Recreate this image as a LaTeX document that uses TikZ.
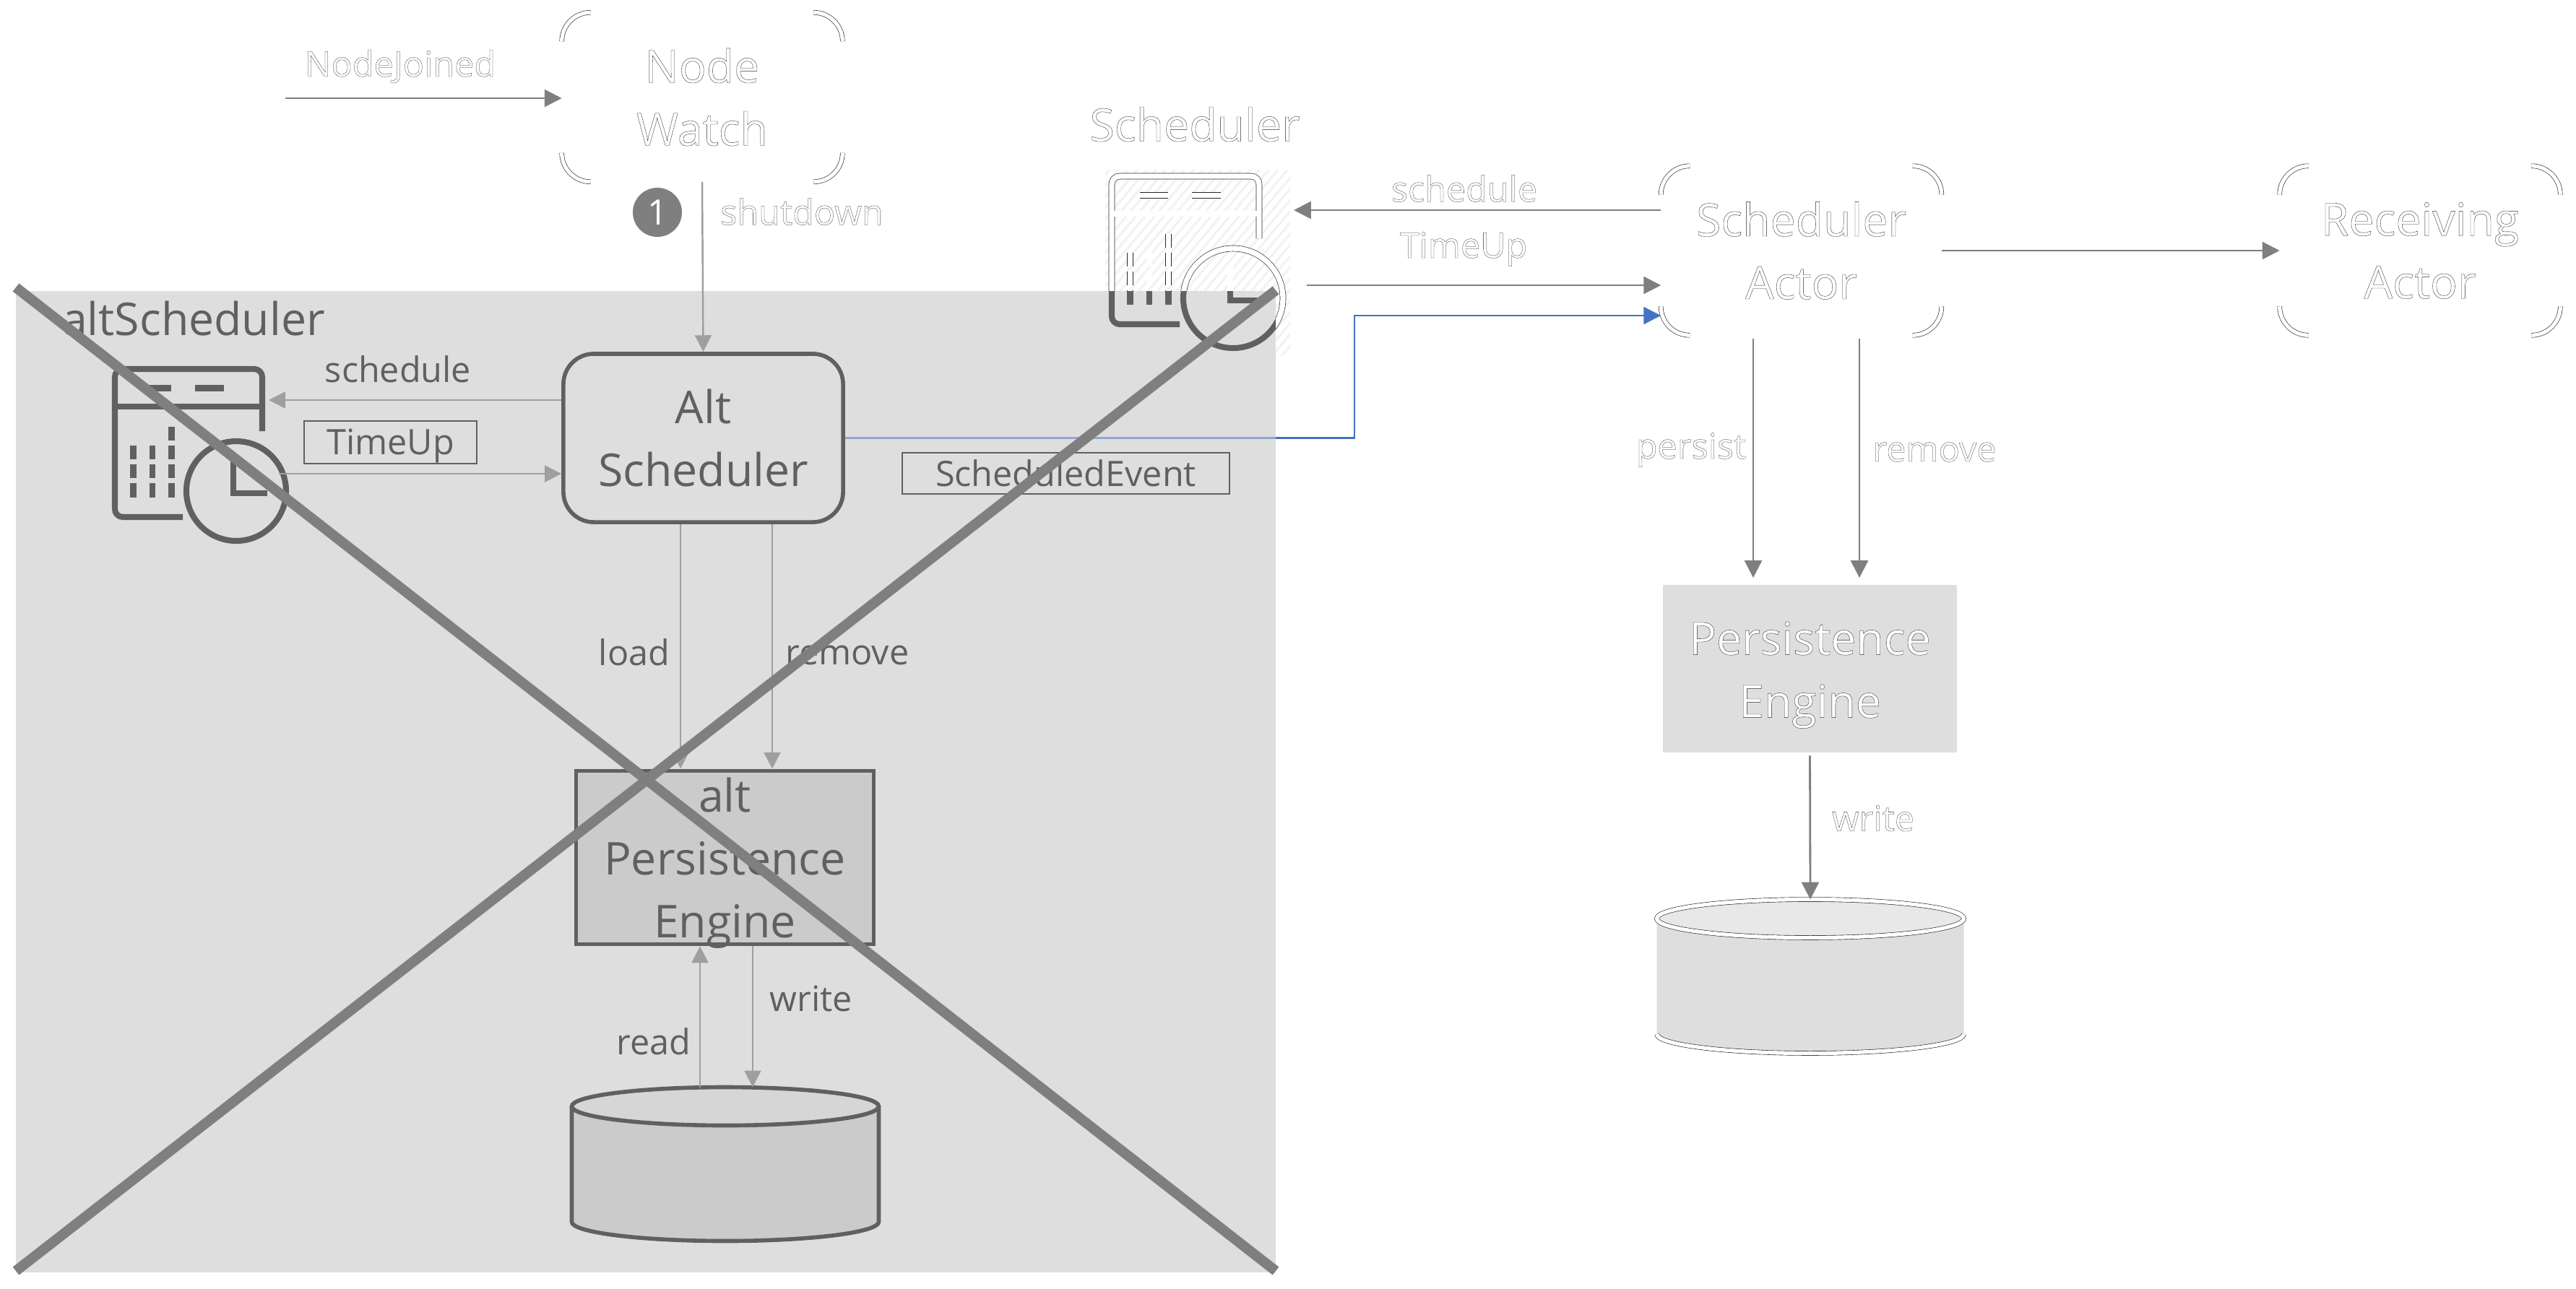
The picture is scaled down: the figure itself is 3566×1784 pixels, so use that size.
\documentclass[tikz,border=0pt]{standalone}
\usepackage{fontspec}
\setmainfont{Open Sans}
\newfontfamily\ghostfont[FakeBold=0.55]{Open Sans}
\usetikzlibrary{arrows.meta,calc}
\definecolor{boxgray}{HTML}{DEDEDE}
\definecolor{darkgray}{HTML}{606060}
\definecolor{crossgray}{HTML}{7F7F7F}
\definecolor{lightarrow}{HTML}{9F9F9F}
\definecolor{fillgray}{HTML}{CBCBCB}
\definecolor{blueline}{HTML}{4472C4}
\definecolor{paleblue}{HTML}{8FA8D3}
\newcommand{\ghosted}{\special{pdf:code 1 1 1 rg 0.15 0.15 0.15 RG}}
\tikzset{
  bigfont/.style={font=\fontsize{17.8}{24.75}\selectfont},
  smallfont/.style={font=\fontsize{13.8}{16}\selectfont},
  outline/.style={draw=black!85,line width=0.18pt,double=white,double distance=1.5pt},
  iconline/.style={outline,double distance=2.1pt},
  arrow/.style={-{Triangle[length=6.8pt,width=6.8pt]},crossgray,line width=0.8pt},
  altarrow/.style={-{Triangle[length=6.5pt,width=6.5pt]},lightarrow,line width=0.7pt},
  blueflow/.style={-{Triangle[length=6.8pt,width=6.8pt]},line width=0.75pt},
  actor/.style={font=\ghostfont\fontsize{17.8}{24.75}\selectfont,text=white,align=center,minimum width=3.87cm,minimum height=2.33cm,inner sep=0pt},
  altbox/.style={bigfont,align=center,text=darkgray,draw=darkgray,line width=1.6pt,inner sep=0pt},
  label/.style={font=\ghostfont\fontsize{13.8}{16}\selectfont,text=white,inner sep=0pt},
  altlabel/.style={smallfont,text=darkgray,inner sep=0pt},
  msgbox/.style={altlabel,draw=darkgray,line width=0.55pt},
  cross/.style={crossgray,line width=4pt},
}
% calendar with clock, given in the position of the alt one
\newcommand{\calendaricon}[1]{
  \draw[#1,line join=round] (253,716) -- (170,716) arc (90:180:11) -- (159,522) arc (180:270:11) -- (352,511) arc (-90:0:11) -- (363,597);
  \draw[#1] (159,563) -- (363,563);
  \draw[#1] (327,680) ellipse (69 and 69);
  \draw[#1] (323,635) -- (323,683) -- (370,683);
  \draw[#1] (198,537.5) -- (237,537.5);
  \draw[#1] (270,537.5) -- (310,537.5);
  \foreach \x in {184.5,211,237.5}{
    \draw[#1] (\x,617) -- (\x,636);
    \draw[#1] (\x,643) -- (\x,662);
    \draw[#1] (\x,669) -- (\x,689);
  }
  \draw[#1] (237.5,591) -- (237.5,610);
}
% cylinder, with centre of the top ellipse at the origin
\newcommand{\dbcylinder}[2]{
  \fill[#1] (-212.5,0) -- (-212.5,160) arc (180:0:212.5 and 26.5) -- (212.5,0) -- cycle;
  \fill[#2] (0,0) ellipse (212.5 and 26.5);
}
\begin{document}
\begin{tikzpicture}[x=0.01cm,y=-0.01cm]
\useasboundingbox (0,0) rectangle (3566,1784);

% faint hatch behind the scheduler icon
\begin{scope}
\clip (1530,235) rectangle (1786,492);
\foreach \i in {0,...,40}{
  \draw[black!5,line width=0.9pt] (1300+\i*13,500) -- (1300+\i*13+235,220);
}
\end{scope}

% background of the alt part
\fill[boxgray] (22,403) rectangle (1766,1762);

% scheduler icon, outlined above the gray part and solid in it
\begin{scope}
\clip (1500,200) rectangle (1800,403) (1766,403) rectangle (1800,500);
\begin{scope}[shift={(1380,-267)}]
\calendaricon{iconline}
\end{scope}
\end{scope}
\begin{scope}
\clip (22,403) rectangle (1766,1762);
\begin{scope}[shift={(1380,-267)}]
\calendaricon{darkgray,line width=2.3pt}
\end{scope}
\end{scope}

% alt calendar
\calendaricon{darkgray,line width=2.3pt}

% boxes
\node[actor] (nodeWatch) at (972,134.5) {\ghosted Node\\Watch};
\node[actor] (schedActor) at (2493.5,347) {\ghosted Scheduler\\Actor};
\node[actor] (recvActor) at (3350,347) {\ghosted Receiving\\Actor};
\foreach \n in {nodeWatch,schedActor,recvActor}{
  \draw[outline] ($(\n.north west)+(0,40)$) arc (180:270:40);
  \draw[outline] ($(\n.north east)+(-40,0)$) arc (270:360:40);
  \draw[outline] ($(\n.south east)+(0,-40)$) arc (0:90:40);
  \draw[outline] ($(\n.south west)+(40,0)$) arc (90:180:40);
}
\node[altbox,rounded corners=0.42cm,minimum width=3.87cm,minimum height=2.33cm] (altSched) at (973.5,606.5) {Alt\\Scheduler};
\node[altbox,fill=fillgray,inner ysep=-3pt,minimum width=4.12cm,minimum height=2.40cm] (altEngine) at (1003.5,1187.5) {\rule{0pt}{18pt}alt\\Persistence\\Engine};
\node[actor,fill=boxgray,minimum width=4.07cm,minimum height=2.32cm] (engine) at (2505.5,926) {\ghosted\rule{0pt}{18pt}Persistence\\Engine};

% databases
\begin{scope}[shift={(1004,1532)}]
\dbcylinder{fillgray}{black!16}
\draw[darkgray,line width=1.6pt] (-212.5,0) -- (-212.5,160) arc (180:0:212.5 and 26.5) -- (212.5,0);
\draw[darkgray,line width=1.6pt] (0,0) ellipse (212.5 and 26.5);
\coordinate (altDbTop) at (0,-26.5);
\end{scope}
\begin{scope}[shift={(2506,1272)}]
\dbcylinder{boxgray}{black!9}
\draw[outline] (-212.5,160) arc (180:0:212.5 and 26.5);
\draw[outline] (0,0) ellipse (212.5 and 26.5);
\coordinate (dbTop) at (0,-26.5);
\end{scope}

% titles and labels
\node[label,font=\ghostfont\fontsize{17.8}{24.75}\selectfont] (schedTitle) at (1654,172) {\ghosted Scheduler};
\node[bigfont,text=darkgray,inner sep=0pt] (altTitle) at (268,441) {altScheduler};
\node[label] (nodeJoinedLabel) at (554,92) {\ghosted NodeJoined};
\node[label] (shutdownLabel) at (1110,293) {\ghosted shutdown};
\node[label] (scheduleLabel) at (2027,261) {\ghosted schedule};
\node[label] (timeUpLabel) at (2026,345) {\ghosted TimeUp};
\node[label] (persistLabel) at (2341,623) {\ghosted persist};
\node[label] (removeLabel) at (2678,626) {\ghosted remove};
\node[label] (writeLabel) at (2593,1133) {\ghosted write};
\node[altlabel] (altScheduleLabel) at (551,511) {schedule};
\node[msgbox,minimum width=2.39cm,minimum height=0.59cm] (altTimeUp) at (540.5,612.5) {\rule{0pt}{13pt}TimeUp};
\node[msgbox,minimum width=4.53cm,minimum height=0.57cm] (schedEvent) at (1475.5,655.5) {ScheduledEvent};
\node[altlabel] (loadLabel) at (878,903) {load};
\node[altlabel] (altRemoveLabel) at (1173,907) {remove};
\node[altlabel] (readLabel) at (905,1442) {read};
\node[altlabel] (altWriteLabel) at (1123,1383) {write};
\node[circle,fill=crossgray,text=white,minimum size=0.68cm,inner sep=0pt,smallfont] (badge) at (910,294) {1};

% free ends and icon sides
\coordinate (joinStart) at (395,136);
\coordinate (schedRight) at (1791,291);
\coordinate (clockRight) at (1809,395);
\coordinate (altCalRight) at (372,554);
\coordinate (altClockRight) at (386,656);
\coordinate (loadX) at (942,0);
\coordinate (altRemoveX) at (1069,0);
\coordinate (readX) at (969,0);
\coordinate (altWriteX) at (1042,0);
\coordinate (persistX) at (2427,0);
\coordinate (removeX) at (2574,0);
\coordinate (eventY) at (0,437);
\coordinate (eventX) at (1875,0);

% connectors
\draw[arrow] (joinStart) -- (nodeWatch.west |- joinStart);
\draw[altarrow] (nodeWatch.south) -- (altSched.north);
\draw[arrow] (schedActor.west |- schedRight) -- (schedRight);
\draw[arrow] (clockRight) -- (schedActor.west |- clockRight);
\draw[arrow] (schedActor.east) -- (recvActor.west);
\draw[arrow,shorten <=1.3pt,shorten >=2.6pt] (schedActor.south -| persistX) -- (engine.north -| persistX);
\draw[arrow,shorten <=1.3pt,shorten >=2.6pt] (schedActor.south -| removeX) -- (engine.north -| removeX);
\draw[arrow,shorten <=1pt] (engine.south) -- (dbTop);
\draw[altarrow] (altSched.west |- altCalRight) -- (altCalRight);
\draw[altarrow] (altClockRight) -- (altSched.west |- altClockRight);
\draw[altarrow] (altSched.south -| loadX) -- (altEngine.north -| loadX);
\draw[altarrow] (altSched.south -| altRemoveX) -- (altEngine.north -| altRemoveX);
\draw[altarrow] (altDbTop -| readX) -- (altEngine.south -| readX);
\draw[altarrow] (altEngine.south -| altWriteX) -- (altDbTop -| altWriteX);
\draw[blueflow,blueline] (altSched.east) -| (eventX |- eventY) -- (schedActor.west |- eventY);
\begin{scope}
\clip (22,403) rectangle (1766,1762);
\draw[line width=0.75pt,paleblue] (altSched.east) -- (eventX |- altSched.east);
\end{scope}

% crossed out
\draw[cross] (22,398) -- (1766,1760);
\draw[cross] (1766,402) -- (22,1760);
\end{tikzpicture}
\end{document}
